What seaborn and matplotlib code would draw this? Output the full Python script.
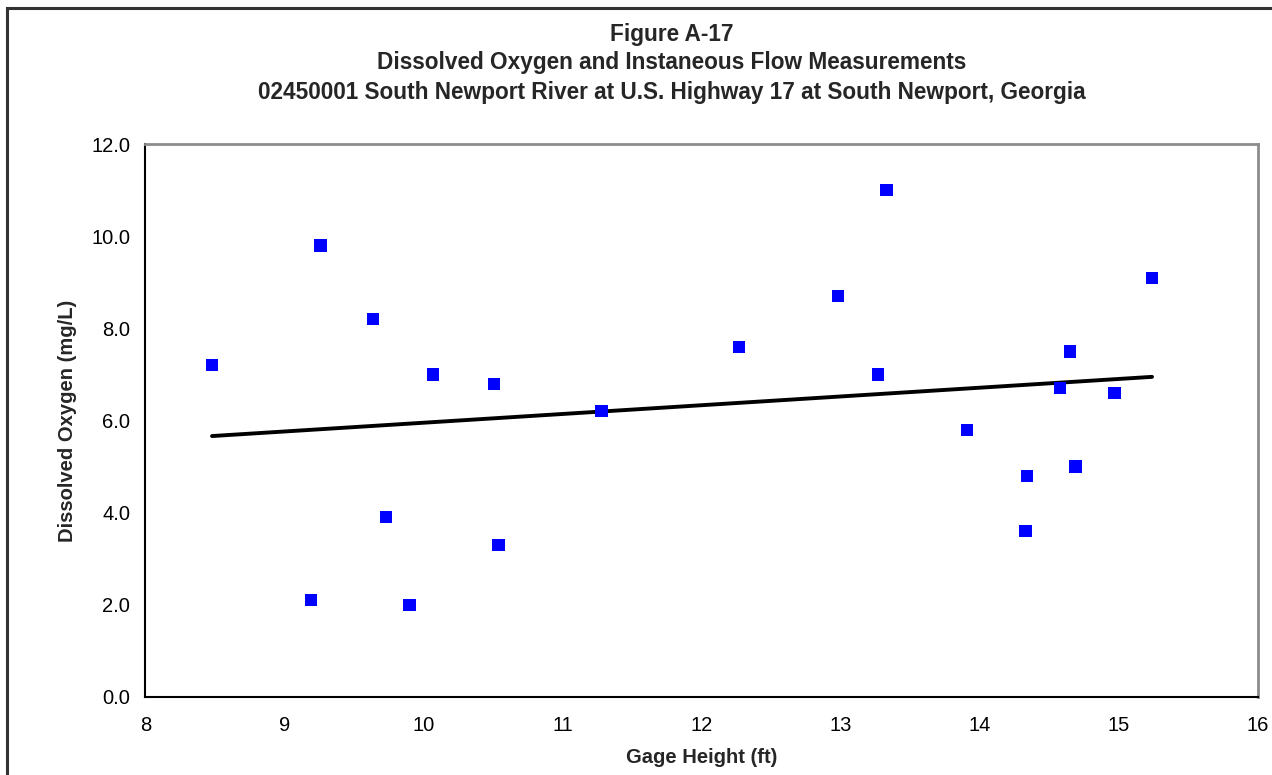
import numpy as np
import pandas as pd
import seaborn as sns
import matplotlib
matplotlib.use("Agg")
import matplotlib.pyplot as plt
from matplotlib.patches import Rectangle

# Gage height (ft) and dissolved oxygen (mg/L) measurements
gage_height = [8.48, 9.26, 9.19, 9.64, 9.73, 9.90, 10.07, 10.51, 10.54, 11.28,
               12.27, 12.98, 13.33, 13.27, 13.91, 14.34, 14.33, 14.58, 14.65,
               14.69, 14.97, 15.24]
dissolved_oxygen = [7.2, 9.8, 2.1, 8.2, 3.9, 2.0, 7.0, 6.8, 3.3, 6.2,
                    7.6, 8.7, 11.0, 7.0, 5.8, 4.8, 3.6, 6.7, 7.5,
                    5.0, 6.6, 9.1]

x_ticks = [8, 9, 10, 11, 12, 13, 14, 15, 16]
y_ticks = [0.0, 2.0, 4.0, 6.0, 8.0, 10.0, 12.0]

title_lines = [
    "Figure A-17",
    "Dissolved Oxygen and Instaneous Flow Measurements",
    "02450001 South Newport River at U.S. Highway 17 at South Newport, Georgia",
]

df = pd.DataFrame({"gage": gage_height, "do": dissolved_oxygen})

sns.set_style("white")
plt.rcParams["font.family"] = ["Liberation Sans", "DejaVu Sans"]

W, H = 1272, 775
fig = plt.figure(figsize=(W / 100, H / 100), dpi=100)
ax = fig.add_axes([145.3 / W, 1 - 696.7 / H, (1257.7 - 145.3) / W, (696.7 - 144.3) / H])

# Linear trend line over the data range
sns.regplot(data=df, x="gage", y="do", ax=ax, ci=None, scatter=False,
            line_kws={"color": "black", "lw": 2.8, "zorder": 2})
# Measurements as blue squares
sns.scatterplot(data=df, x="gage", y="do", ax=ax, marker="s", s=78,
                color="#0000ff", edgecolor="none", zorder=3)

ax.set_xlim(8, 16)
ax.set_ylim(0, 12)
ax.set_xticks(x_ticks)
ax.set_xticklabels([str(t) for t in x_ticks])
ax.set_yticks(y_ticks)
ax.set_yticklabels([f"{t:.1f}" for t in y_ticks])
ax.tick_params(axis="both", direction="out", length=6, width=1.2, color="black",
               labelsize=14.5, labelcolor="black")
ax.tick_params(axis="y", pad=5)
ax.tick_params(axis="x", pad=8)

for side in ("left", "bottom"):
    ax.spines[side].set_color("black")
    ax.spines[side].set_linewidth(1.5)
for side in ("top", "right"):
    ax.spines[side].set_color("#8c8c8c")
    ax.spines[side].set_linewidth(2.0)

ax.set_xlabel("Gage Height (ft)", fontsize=14.5, fontweight="bold", labelpad=9)
ax.set_ylabel("Dissolved Oxygen (mg/L)", fontsize=14.5, fontweight="bold", labelpad=10)

# Three-line title
for i, line in enumerate(title_lines):
    fig.text(672 / W, 1 - (34 + i * 29) / H, line,
             ha="center", va="center", fontsize=16.3, fontweight="bold")

# Outer chart frame
fig.patches.append(Rectangle((7 / W, -0.05), 1.1, 1 - 8 / H + 0.05,
                             transform=fig.transFigure, fill=False,
                             edgecolor="#333333", linewidth=2.2))

fig.savefig("out.png", dpi=100, facecolor="white")
